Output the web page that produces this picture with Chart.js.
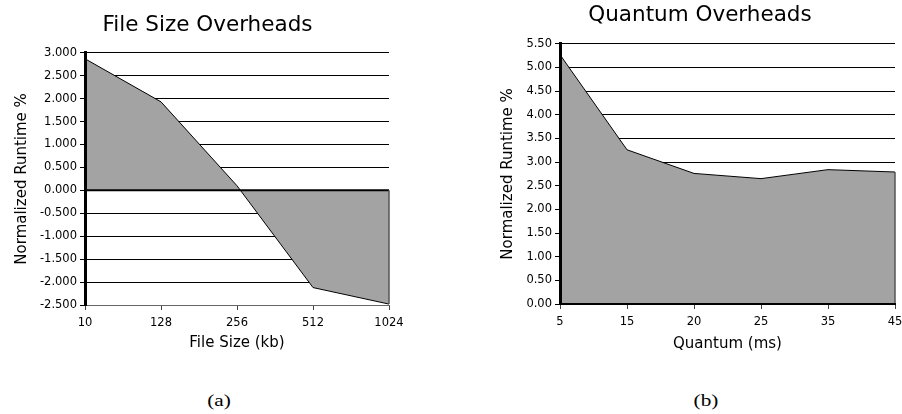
<!DOCTYPE html>
<html>
<head>
<meta charset="utf-8">
<script src="https://cdn.jsdelivr.net/npm/chart.js@4.4.1/dist/chart.umd.min.js"></script>
<style>
  body { margin: 0; background: #fff; width: 902px; height: 414px; position: relative; overflow: hidden; }
  .box { position: absolute; }
  .cap { position: absolute; font-family: "Liberation Serif", serif; font-size: 17px; color: #000; transform: translateX(-50%) scale(1.25, 1); }
</style>
</head>
<body>
<div class="box" style="left:0;top:0;width:415px;height:360px"><canvas id="sizeChart"></canvas></div>
<div class="box" style="left:498px;top:0;width:404px;height:360px"><canvas id="quantumChart"></canvas></div>
<div class="cap" style="left:219px;top:391px">(a)</div>
<div class="cap" style="left:706px;top:391px">(b)</div>
<script>
// chart (a): file size
const sizeLabels = ['10', '128', '256', '512', '1024'];
const sizeValues = [2.87, 1.93, 0.1, -2.12, -2.48];
// chart (b): quantum
const quantumLabels = ['5', '15', '20', '25', '35', '45'];
const quantumValues = [5.27, 3.26, 2.76, 2.65, 2.84, 2.79];

const FONT = 'DejaVu Sans';
Chart.defaults.font.family = FONT;
Chart.defaults.color = '#000';

// zero line over the fill and the closing edge at the last point
const edgePlugin = {
  id: 'edges',
  afterDatasetsDraw(chart, args, opts) {
    const { ctx, chartArea, scales } = chart;
    const x = scales.x, y = scales.y;
    const vals = chart.data.datasets[0].data;
    ctx.save();
    if (opts.zeroLine) {
      const y0 = y.getPixelForValue(0);
      ctx.strokeStyle = '#000';
      ctx.lineWidth = 2;
      ctx.beginPath();
      ctx.moveTo(chartArea.left, y0);
      ctx.lineTo(chartArea.right, y0);
      ctx.stroke();
    }
    const xl = x.getPixelForValue(vals.length - 1);
    ctx.strokeStyle = '#555';
    ctx.lineWidth = 1.5;
    ctx.beginPath();
    ctx.moveTo(xl, y.getPixelForValue(0));
    ctx.lineTo(xl, y.getPixelForValue(vals[vals.length - 1]));
    ctx.stroke();
    ctx.restore();
  }
};

function makeChart(id, cfg) {
  return new Chart(document.getElementById(id), {
    type: 'line',
    data: {
      labels: cfg.labels,
      datasets: [{
        data: cfg.values,
        borderColor: '#000',
        borderWidth: 1,
        backgroundColor: '#a3a3a3',
        fill: 'origin',
        pointRadius: 0,
        tension: 0
      }]
    },
    options: {
      responsive: true,
      maintainAspectRatio: false,
      animation: false,
      layout: { padding: 0 },
      plugins: {
        legend: { display: false },
        tooltip: { enabled: false },
        title: {
          display: true,
          text: cfg.title,
          font: { size: 21.5, weight: 'normal' },
          color: '#000',
          padding: cfg.titlePad
        },
        edges: { zeroLine: cfg.zeroLine }
      },
      scales: {
        x: {
          offset: false,
          // let the last label run past the edge, as in the reference
          afterFit: s => { s.height = cfg.xHeight; s.paddingRight = 0; },
          grid: { drawOnChartArea: false, color: '#444', tickLength: 5 },
          border: { color: cfg.xBorderColor, width: cfg.xBorderWidth, z: 1 },
          ticks: { font: { size: 11.5 }, color: '#000', padding: 6, maxRotation: 0 },
          title: {
            display: true,
            text: cfg.xTitle,
            font: { size: 15 },
            color: '#000',
            padding: { top: 2, bottom: cfg.xTitleBottom }
          }
        },
        y: {
          min: cfg.min,
          max: cfg.max,
          afterFit: s => { s.width = cfg.yWidth; },
          grid: { color: '#000', lineWidth: 1, tickLength: 5 },
          border: { color: '#000', width: 3, z: 1 },
          ticks: {
            stepSize: 0.5,
            font: { size: 11.5 },
            color: '#000',
            padding: 3,
            callback: v => Number(v).toFixed(cfg.decimals)
          },
          title: {
            display: true,
            text: 'Normalized Runtime %',
            font: { size: 15 },
            color: '#000',
            padding: { top: cfg.yTitleTop, bottom: 0 }
          }
        },
        // empty spacer on the right so the plot ends where the reference does
        spacer: {
          type: 'linear',
          position: 'right',
          afterFit: s => { s.width = cfg.rightWidth; },
          grid: { display: false },
          border: { display: false },
          ticks: { display: false }
        }
      }
    },
    plugins: [edgePlugin]
  });
}

makeChart('sizeChart', {
  labels: sizeLabels,
  values: sizeValues,
  title: 'File Size Overheads',
  xTitle: 'File Size (kb)',
  min: -2.5, max: 3, decimals: 3,
  rightWidth: 26, yWidth: 85, xHeight: 55,
  titlePad: { top: 12.5, bottom: 14.5 },
  xTitleBottom: 8, yTitleTop: 13,
  xBorderColor: '#666', xBorderWidth: 1,
  zeroLine: true
});

makeChart('quantumChart', {
  labels: quantumLabels,
  values: quantumValues,
  title: 'Quantum Overheads',
  xTitle: 'Quantum (ms)',
  min: 0, max: 5.5, decimals: 2,
  rightWidth: 7, yWidth: 62, xHeight: 56,
  titlePad: { top: 2.5, bottom: 15.5 },
  xTitleBottom: 6.7, yTitleTop: 1,
  xBorderColor: '#000', xBorderWidth: 2,
  zeroLine: false
});
</script>
</body>
</html>
